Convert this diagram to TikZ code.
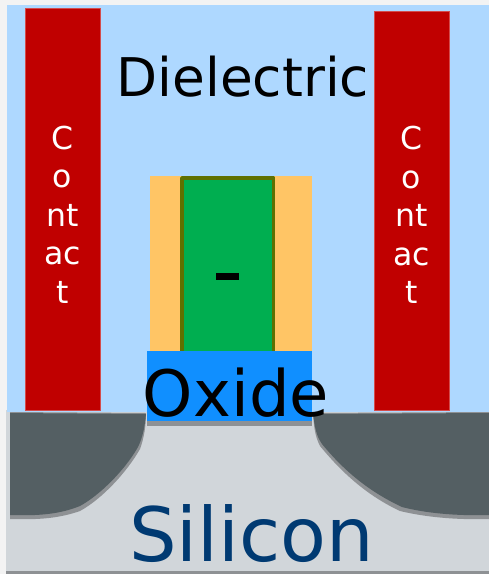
\documentclass[tikz,border=0pt]{standalone}
\usepackage{fontspec}
\setmainfont{DejaVu Sans}
\definecolor{diel}{HTML}{AED8FF}
\definecolor{sil}{HTML}{D1D6DA}
\definecolor{edgeg}{HTML}{8E9194}
\definecolor{well}{HTML}{545F63}
\definecolor{cont}{HTML}{C00000}
\definecolor{spacer}{HTML}{FFC565}
\definecolor{gatef}{HTML}{00AE50}
\definecolor{gated}{HTML}{5F7000}
\definecolor{oxidec}{HTML}{108FFF}
\definecolor{silt}{HTML}{003A72}
\definecolor{pagebg}{HTML}{F3F3F3}
\tikzset{
  x=1pt,y=-1pt,
  contactbar/.style={fill=cont,draw=cont!70!white,line width=0.6pt},
  contacttext/.style={inner sep=0pt,align=center,text=white,font=\fontsize{31.5}{38.5}\selectfont},
  wellshadow/.style={fill=edgeg},
  wellfill/.style={fill=well}
}
\begin{document}
\begin{tikzpicture}
\useasboundingbox (0,0) rectangle (489,574);
\fill[pagebg] (0,0) rectangle (489,574);
\fill[sil] (6,410) rectangle (489,574);
\fill[edgeg] (6,571) rectangle (489,574);
\fill[diel] (7,5) rectangle (489,411.5);
% wells
\fill[wellshadow] (10,412) -- (146,413) .. controls (146,426) and (144,438) .. (140,449) .. controls (127,472) and (102,499) .. (80,511) .. controls (60,518) and (40,520) .. (10,519) -- cycle;
\fill[wellfill] (10,413) -- (146,414) .. controls (145,425) and (143,437) .. (138,447) .. controls (125,470) and (100,495) .. (80,506) .. controls (60,514) and (40,516) .. (10,515) -- cycle;
\fill[wellshadow] (489,412) -- (313,413) .. controls (314,428) and (315,436) .. (320,446) .. controls (343,474) and (368,496) .. (400,511) .. controls (425,517) and (455,520) .. (489,519) -- cycle;
\fill[wellfill] (489,413) -- (313,414) .. controls (315,428) and (316,435) .. (322,444) .. controls (345,472) and (370,492) .. (402,507) .. controls (425,513) and (455,516) .. (489,515) -- cycle;
% contacts
\draw[contactbar] (25,8) rectangle (100.5,410);
\draw[contactbar] (374,11) rectangle (449,410);
\node[contacttext] (contactL) at (62.5,214.5) {C\\o\\nt\\ac\\t};
\node[contacttext] (contactR) at (411.5,215) {C\\o\\nt\\ac\\t};
% gate stack
\fill[spacer] (150,176) rectangle (312,352);
\draw[fill=gatef,draw=gated,line width=3.6pt,line join=round] (182,356) -- (182,178) -- (273.5,178) -- (273.5,356);
\fill[black] (216,273) rectangle (239,280);
\fill[edgeg] (147,420) rectangle (312,426);
\fill[oxidec] (146.5,351) rectangle (312,421);
% labels
\node[inner sep=0pt,font=\fontsize{53.3}{60}\selectfont,text=black] (dielectric) at (243,77) {Dielectric};
\node[inner sep=0pt,font=\fontsize{64}{70}\selectfont,text=black] (oxide) at (236,392.5) {Oxide};
\node[inner sep=0pt,font=\fontsize{75}{80}\selectfont,text=silt] (silicon) at (251.5,534) {Silicon};
\end{tikzpicture}
\end{document}
